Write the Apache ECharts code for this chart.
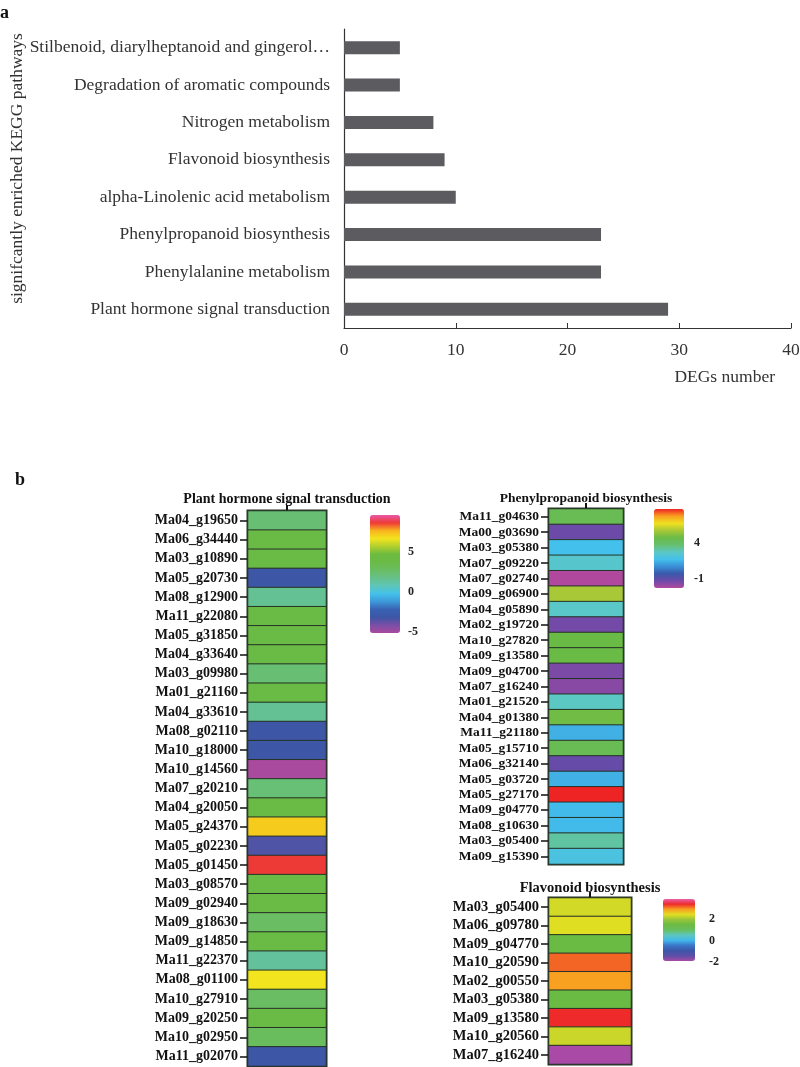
<!DOCTYPE html>
<html>
<head>
<meta charset="utf-8">
<script src="https://cdn.jsdelivr.net/npm/echarts@6/dist/echarts.min.js"></script>
<style>
html,body{margin:0;padding:0;background:#fff;}
#chart{width:800px;height:1067px;}
</style>
</head>
<body>
<div id="chart"></div>
<script>
// ---- Panel a: KEGG pathways (bottom to top) ----
const pathways = [
  'Plant hormone signal transduction',
  'Phenylalanine metabolism',
  'Phenylpropanoid biosynthesis',
  'alpha-Linolenic acid metabolism',
  'Flavonoid biosynthesis',
  'Nitrogen metabolism',
  'Degradation of aromatic compounds',
  'Stilbenoid, diarylheptanoid and gingerol biosynthesis'
];
const degCounts = [29, 23, 23, 10, 9, 8, 5, 5];
const degTicks = [0, 10, 20, 30, 40];

// ---- Panel b: heatmaps ----
const hormoneGenes = ['Ma04_g19650','Ma06_g34440','Ma03_g10890','Ma05_g20730','Ma08_g12900','Ma11_g22080','Ma05_g31850','Ma04_g33640','Ma03_g09980','Ma01_g21160','Ma04_g33610','Ma08_g02110','Ma10_g18000','Ma10_g14560','Ma07_g20210','Ma04_g20050','Ma05_g24370','Ma05_g02230','Ma05_g01450','Ma03_g08570','Ma09_g02940','Ma09_g18630','Ma09_g14850','Ma11_g22370','Ma08_g01100','Ma10_g27910','Ma09_g20250','Ma10_g02950','Ma11_g02070'];
const hormoneValues = [2.6, 4, 4, -3, 1.8, 4, 4, 4, 2.6, 4, 1.8, -3, -3, -5, 2.5, 4, 7.5, -3.3, 9, 4, 4, 3, 4, 1.6, 7, 3, 4, 3.2, -3];
const hormoneRange = [-5, 10];
const hormoneTicks = [-5, 0, 5];

const phenylGenes = ['Ma11_g04630','Ma00_g03690','Ma03_g05380','Ma07_g09220','Ma07_g02740','Ma09_g06900','Ma04_g05890','Ma02_g19720','Ma10_g27820','Ma09_g13580','Ma09_g04700','Ma07_g16240','Ma01_g21520','Ma04_g01380','Ma11_g21180','Ma05_g15710','Ma06_g32140','Ma05_g03720','Ma05_g27170','Ma09_g04770','Ma08_g10630','Ma03_g05400','Ma09_g15390'];
const phenylValues = [4.4, -1.3, 1.7, 2.5, -2.3, 5.7, 2.6, -1.4, 4.7, 4.7, -1.5, -1.7, 2.7, 4.8, 1.4, 4.4, -1.2, 1.4, 8.7, 1.6, 1.6, 3.1, 2.0];
const phenylRange = [-2.3, 8.7];
const phenylTicks = [-1, 4];

const flavGenes = ['Ma03_g05400','Ma06_g09780','Ma09_g04770','Ma10_g20590','Ma02_g00550','Ma03_g05380','Ma09_g13580','Ma10_g20560','Ma07_g16240'];
const flavValues = [2.4, 2.5, 1.5, 3.25, 3, 1.5, 3.5, 2.35, -2];
const flavRange = [-2, 4];
const flavTicks = [-2, 0, 2];

// colour scales (low -> high)
const hormoneColors = ['#a94a9e','#7a4ea6','#3d56a6','#3a62b4','#3c98d8','#44c2ea','#5ec6b8','#66c08a','#6abd62','#6abb46','#6cbb40','#b0cf2e','#f2e41e','#f8b41e','#ee3a36','#e858a8'];
const phenylColors = ['#b0489e','#6c4aa8','#3a58aa','#3a8ed6','#44c0ec','#5cc8c4','#66bf70','#6abb46','#a8c838','#f0e020','#f8a020','#ee2424'];
const flavColors = ['#a84aa6','#5c4ea8','#3c56a8','#3a76c8','#42b8ea','#5cc6c0','#68bf60','#6abb44','#98c43a','#e0de22','#f8a020','#ee2a2a','#e860a8'];

const serif = '"Liberation Serif", "Times New Roman", serif';
const cellBorder = '#263326';

function heatData(vals) { return vals.map((v, i) => [0, i, v]); }

function heatX(gridIndex, name, fs, gap) {
  return {
    type: 'category', gridIndex, data: [''], position: 'top',
    axisLine: { show: false },
    axisTick: { show: true, alignWithLabel: true, length: 6, lineStyle: { color: '#111', width: 2 } },
    axisLabel: { show: false },
    splitLine: { show: false },
    name, nameLocation: 'middle', nameGap: gap,
    nameTextStyle: { fontFamily: serif, fontWeight: 'bold', fontSize: fs, color: '#111' }
  };
}
function heatY(gridIndex, genes, fs) {
  return {
    type: 'category', gridIndex, data: genes, inverse: true,
    axisLine: { show: true, lineStyle: { color: cellBorder, width: 2 } },
    axisTick: { show: true, alignWithLabel: true, interval: 0, length: 8, lineStyle: { color: '#111', width: 1.5 } },
    axisLabel: { interval: 0, fontFamily: serif, fontWeight: 'bold', fontSize: fs, color: '#111', margin: 10 },
    splitLine: { show: false }
  };
}
function barX(gridIndex) {
  return { type: 'value', gridIndex, show: false, min: 0, max: 1 };
}
function barY(gridIndex, ticks, margin) {
  const step = ticks[1] - ticks[0];
  return {
    type: 'value', gridIndex, position: 'right',
    min: ticks[0], max: ticks[ticks.length - 1], interval: step,
    axisLine: { show: false }, axisTick: { show: false }, splitLine: { show: false },
    axisLabel: { fontFamily: serif, fontWeight: 'bold', fontSize: 12, color: '#222', margin }
  };
}
function vmap(seriesIndex, range, colors, left, top, w, h) {
  return {
    type: 'continuous', seriesIndex, min: range[0], max: range[1],
    calculable: false, realtime: false, hoverLink: false,
    left, top, itemWidth: w, itemHeight: h, padding: 0,
    orient: 'vertical', inRange: { color: colors }
  };
}
function gridBox(left, top, width, height, framed) {
  const g = { left, top, width, height, containLabel: false, outerBoundsMode: 'none' };
  if (framed) Object.assign(g, { show: true, borderColor: cellBorder, borderWidth: 3, backgroundColor: 'transparent' });
  return g;
}

const chart = echarts.init(document.getElementById('chart'), null, { renderer: 'canvas' });

const option = {
  backgroundColor: '#fff',
  animation: false,
  title: [
    { text: 'a', left: 0, top: 4, padding: 0, textStyle: { fontFamily: serif, fontWeight: 'bold', fontSize: 18, color: '#111' } },
    { text: 'b', left: 15, top: 471, padding: 0, textStyle: { fontFamily: serif, fontWeight: 'bold', fontSize: 18, color: '#111' } }
  ],
  grid: [
    gridBox(344, 29, 447, 299, false),
    gridBox(248, 511, 78, 555, true),
    gridBox(549, 509, 74, 355, true),
    gridBox(549, 898, 82, 166, true),
    gridBox(370, 552, 30, 80, false),
    gridBox(654, 543, 30, 36, false),
    gridBox(663, 919, 32, 43, false)
  ],
  xAxis: [
    {
      type: 'value', gridIndex: 0, min: degTicks[0], max: degTicks[degTicks.length - 1], interval: degTicks[1] - degTicks[0],
      axisLine: { show: true, lineStyle: { color: '#333', width: 1.2 } },
      axisTick: { show: true, inside: true, length: 5, lineStyle: { color: '#333' } },
      axisLabel: { fontFamily: serif, fontSize: 17.5, color: '#333', margin: 13 },
      splitLine: { show: false },
      name: 'DEGs number', nameLocation: 'end', nameGap: -16,
      nameTextStyle: { fontFamily: serif, fontSize: 17.5, color: '#333', align: 'right', verticalAlign: 'top', padding: [40, 0, 0, 0] }
    },
    heatX(1, 'Plant hormone signal transduction', 14, 5),
    heatX(2, 'Phenylpropanoid biosynthesis', 13.5, 3),
    heatX(3, 'Flavonoid biosynthesis', 14.5, 2)
  ].concat([barX(4), barX(5), barX(6)]),
  yAxis: [
    {
      type: 'category', gridIndex: 0, data: pathways,
      axisLine: { show: true, lineStyle: { color: '#333', width: 1.2 } },
      axisTick: { show: false },
      axisLabel: { fontFamily: serif, fontSize: 17.5, color: '#333', margin: 14, width: 303, overflow: 'truncate', ellipsis: '…' },
      name: 'signifcantly enriched KEGG pathways', nameLocation: 'middle', nameGap: 318, nameMoveOverlap: false,
      nameTextStyle: { fontFamily: serif, fontSize: 17.5, color: '#333', padding: [0, 0, 0, 20] }
    },
    heatY(1, hormoneGenes, 14),
    heatY(2, phenylGenes, 13.5),
    heatY(3, flavGenes, 14.5),
    barY(4, hormoneTicks, 8),
    barY(5, phenylTicks, 10),
    barY(6, flavTicks, 14)
  ],
  visualMap: [
    vmap(1, hormoneRange, hormoneColors, 370, 515, 30, 118),
    vmap(2, phenylRange, phenylColors, 654, 509, 30, 79),
    vmap(3, flavRange, flavColors, 663, 899, 32, 62)
  ],
  series: [
    { type: 'bar', xAxisIndex: 0, yAxisIndex: 0, data: degCounts, barWidth: 13, itemStyle: { color: '#5b5b60' }, silent: true },
    { type: 'heatmap', xAxisIndex: 1, yAxisIndex: 1, data: heatData(hormoneValues), itemStyle: { borderColor: cellBorder, borderWidth: 1 }, silent: true },
    { type: 'heatmap', xAxisIndex: 2, yAxisIndex: 2, data: heatData(phenylValues), itemStyle: { borderColor: cellBorder, borderWidth: 1 }, silent: true },
    { type: 'heatmap', xAxisIndex: 3, yAxisIndex: 3, data: heatData(flavValues), itemStyle: { borderColor: cellBorder, borderWidth: 1 }, silent: true }
  ]
};
chart.setOption(option);
</script>
</body>
</html>
